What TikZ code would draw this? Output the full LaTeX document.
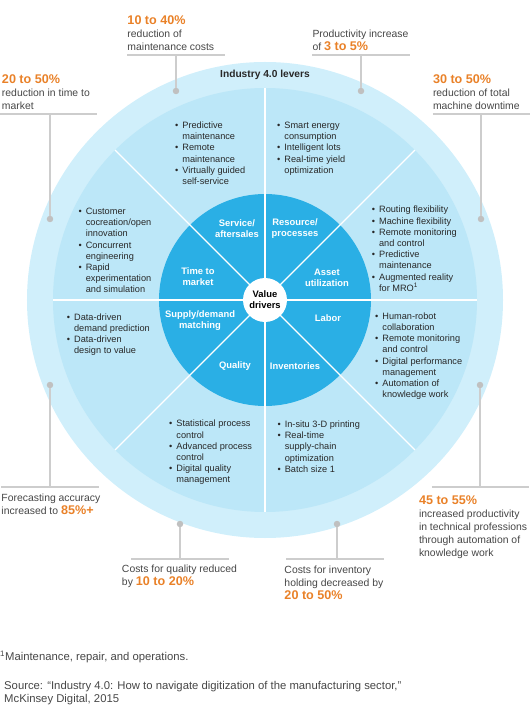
\documentclass[tikz,border=0pt]{standalone}
\usepackage{fontspec}
\setmainfont{Liberation Sans}
\usepackage{xcolor}
\usepackage{tikz}
\usetikzlibrary{positioning, calc}
\definecolor{cOuter}{RGB}{208,239,251}
\definecolor{cRing}{RGB}{188,231,248}
\definecolor{cCore}{RGB}{42,175,229}
\definecolor{cOrange}{RGB}{233,129,40}
\definecolor{cText}{RGB}{40,40,40}
\definecolor{cCall}{RGB}{70,70,70}
\definecolor{cRule}{RGB}{205,205,205}
\definecolor{cDot}{RGB}{192,192,192}
\newcommand{\lvfont}{\fontsize{9.2bp}{11.2bp}\selectfont}
\newcommand{\drvfont}{\fontsize{9.4bp}{11bp}\selectfont\bfseries}
\newcommand{\callfont}{\fontsize{10.4bp}{12.8bp}\selectfont}
\newcommand{\notefont}{\fontsize{11.3bp}{12.8bp}\selectfont}
\newcommand{\pct}[1]{{\color{cOrange}\bfseries\fontsize{12.6bp}{12.8bp}\selectfont #1}}
\newcommand{\lv}{\textbullet}
\tikzset{
	ringdiv/.style ={draw=white, line width=1.1bp},
	hub/.style     ={circle, fill=white, minimum size=44bp, inner sep=0pt, align=center, font=\drvfont, text=black},
	driver/.style  ={align=center, inner sep=0pt, font=\drvfont, text=white},
	levers/.style  ={anchor=north west, inner sep=0pt, font=\lvfont, text=cText},
	title/.style   ={inner sep=0pt, font=\fontsize{10.2bp}{12bp}\selectfont\bfseries, text=cText},
	calldot/.style ={circle, fill=cDot, minimum size=6.5bp, inner sep=0pt},
	callline/.style={draw=cRule, line width=1.3bp},
	rulebar/.style ={minimum width=97bp, minimum height=0pt, inner sep=0pt},
	callout/.style ={align=left, inner sep=0pt, font=\callfont, text=cCall},
	note/.style    ={align=left, inner sep=0pt, font=\notefont, text=cCall},
}

\begin{document}
\begin{tikzpicture}[x=1bp, y=1bp]
	\useasboundingbox (-265,-415) rectangle (265,300);
	% rings
	\fill[cOuter] (0,0) circle (238);
	\fill[cRing] (0,0) circle (212);
	\fill[cCore] (0,0) circle (106);
	\foreach \a in {0,45,...,315} \draw[ringdiv] (\a:20) -- (\a:212);
	\node[hub] (hub) at (0,0) {Value\\drivers};
	\node[title] (title) at (0,225) {Industry 4.0 levers};

	% value drivers
	\node[driver] (drv-service) at (-28,71) {Service/\\aftersales};
	\node[driver] (drv-resource) at (30,71) {Resource/\\processes};
	\node[driver] (drv-time) at (-67,23) {Time to\\market};
	\node[driver] (drv-asset) at (62,22) {Asset\\utilization};
	\node[driver] (drv-supply) at (-65,-21) {Supply/demand\\matching};
	\node[driver] (drv-labor) at (63,-18) {Labor};
	\node[driver] (drv-quality) at (-30,-66) {Quality};
	\node[driver] (drv-invent) at (30,-66) {Inventories};

	% levers
	\node[levers] (lv-service) at (-90,179.5) {\begin{tabular}{@{}l@{\hspace{4bp}}l@{}}
		\lv & Predictive\\ & maintenance\\ \lv & Remote\\ & maintenance\\ \lv & Virtually guided\\ & self-service\end{tabular}};
	\node[levers] (lv-resource) at (12,179.5) {\begin{tabular}{@{}l@{\hspace{4bp}}l@{}}
		\lv & Smart energy\\ & consumption\\ \lv & Intelligent lots\\ \lv & Real-time yield\\ & optimization\end{tabular}};
	\node[levers] (lv-time) at (-186.6,93.5) {\begin{tabular}{@{}l@{\hspace{4bp}}l@{}}
		\lv & Customer\\ & cocreation/open\\ & innovation\\ \lv & Concurrent\\ & engineering\\ \lv & Rapid\\ & experimentation\\ & and simulation\end{tabular}};
	\node[levers] (lv-supply) at (-198.3,-12.2) {\begin{tabular}{@{}l@{\hspace{4bp}}l@{}}
		\lv & Data-driven\\ & demand prediction\\ \lv & Data-driven\\ & design to value\end{tabular}};
	\node[levers] (lv-quality) at (-96,-118.8) {\begin{tabular}{@{}l@{\hspace{4bp}}l@{}}
		\lv & Statistical process\\ & control\\ \lv & Advanced process\\ & control\\ \lv & Digital quality\\ & management\end{tabular}};
	\node[levers] (lv-invent) at (12.4,-119.5) {\begin{tabular}{@{}l@{\hspace{4bp}}l@{}}
		\lv & In-situ 3-D printing\\ \lv & Real-time\\ & supply-chain\\ & optimization\\ \lv & Batch size 1\end{tabular}};
	\node[levers] (lv-labor) at (110,-11.2) {\begin{tabular}{@{}l@{\hspace{4bp}}l@{}}
		\lv & Human-robot\\ & collaboration\\ \lv & Remote monitoring\\ & and control\\ \lv & Digital performance\\ & management\\ \lv & Automation of\\ & knowledge work\end{tabular}};
	\node[levers] (lv-asset) at (106.7,95.2) {\begin{tabular}{@{}l@{\hspace{4bp}}l@{}}
		\lv & Routing flexibility\\ \lv & Machine flexibility\\ \lv & Remote monitoring\\ & and control\\ \lv & Predictive\\ & maintenance\\ \lv & Augmented reality\\ & for MRO\textsuperscript{1}\end{tabular}};

	% callouts
	\node[calldot] (d1) at (-89,209) {};
	\node[calldot] (d2) at (96,209) {};
	\node[calldot] (d3) at (-215,81) {};
	\node[calldot] (d4) at (216,81) {};
	\node[calldot] (d5) at (-215,-85) {};
	\node[calldot] (d6) at (-85,-224) {};
	\node[calldot] (d7) at (72,-224) {};
	\node[calldot] (d8) at (215,-85) {};
	\node[rulebar] (r1) at (-89,245) {};
	\node[rulebar] (r2) at (96,245) {};
	\node[rulebar] (r3) at (-216.5,186) {};
	\node[rulebar] (r4) at (216.5,186) {};
	\node[rulebar] (r5) at (-215,-187) {};
	\node[rulebar] (r6) at (-85,-259) {};
	\node[rulebar] (r7) at (70,-259) {};
	\node[rulebar] (r8) at (215.5,-187) {};
	\foreach \i in {1,...,8} {
		\draw[callline] (r\i.west) -- (r\i.east);
		\draw[callline] (d\i) -- (d\i |- r\i);
	}
	\node[callout, anchor=south west] (c1) at ([yshift=4.5bp]r1.west) {\pct{10 to 40\%}\\reduction of\\maintenance costs};
	\node[callout, anchor=south west] (c2) at ([yshift=4.5bp]r2.west) {Productivity increase\\of \pct{3 to 5\%}};
	\node[callout, anchor=south west] (c3) at ([xshift=2bp, yshift=4.5bp]r3.west) {\pct{20 to 50\%}\\reduction in time to\\market};
	\node[callout, anchor=south west] (c4) at ([yshift=4.5bp]r4.west) {\pct{30 to 50\%}\\reduction of total\\machine downtime};
	\node[callout, anchor=north west] (c5) at ([yshift=-7bp]r5.west) {Forecasting accuracy\\increased to \pct{85\%+}};
	\node[callout, anchor=north west] (c6) at ([xshift=-9.5bp, yshift=-6bp]r6.west) {Costs for quality reduced\\by \pct{10 to 20\%}};
	\node[callout, anchor=north west] (c7) at ([xshift=-2bp, yshift=-7bp]r7.west) {Costs for inventory\\holding decreased by\\\pct{20 to 50\%}};
	\node[callout, anchor=north west] (c8) at ([xshift=-13bp, yshift=-9bp]r8.west) {\pct{45 to 55\%}\\increased productivity\\in technical professions\\through automation of\\knowledge work};

	% notes
	\node[note, anchor=base west] (fn) at (-265,-360.5) {\textsuperscript{1}Maintenance, repair, and operations.};
	\node[note, anchor=north west] (src) at (-261,-381) {Source: “Industry 4.0: How to navigate digitization of the manufacturing sector,”\\McKinsey Digital, 2015};
\end{tikzpicture}
\end{document}
